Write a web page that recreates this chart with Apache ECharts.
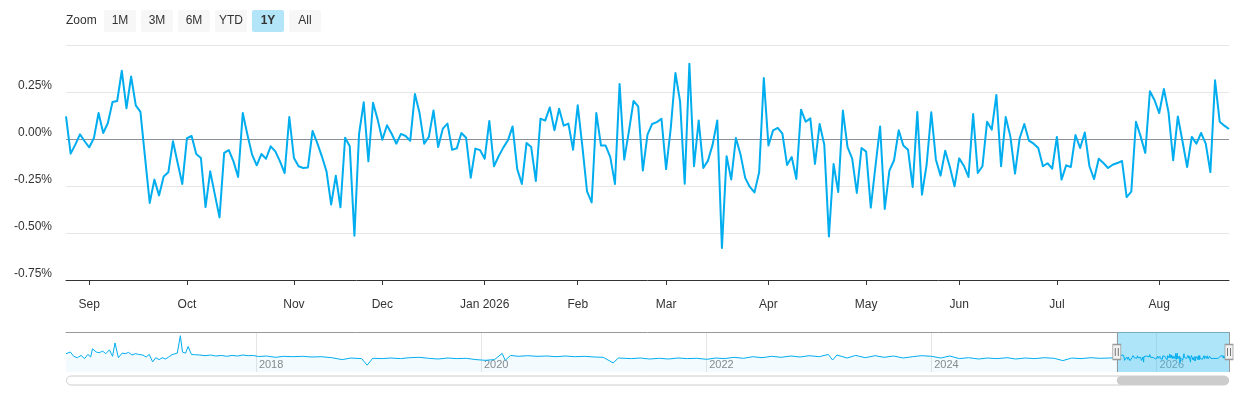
<!DOCTYPE html>
<html>
<head>
<meta charset="utf-8">
<script src="https://cdn.jsdelivr.net/npm/echarts@6/dist/echarts.min.js"></script>
<style>
  html, body { margin: 0; padding: 0; background: #fff; }
  #main { width: 1240px; height: 400px; }
</style>
</head>
<body>
<div id="main"></div>
<script>
'use strict'
var FONT = '"Liberation Sans", Arial, Helvetica, sans-serif';
var LINE = '#00adef';

// daily values (%), one array per month, trading days only
var aug2025 = [0.12, -0.078, -0.03, 0.025, -0.012];
var sep2025 = [-0.044, 0.005, 0.138, 0.032, 0.085, 0.197, 0.202, 0.363, 0.163, 0.333, 0.179,
               0.144, -0.10, -0.34, -0.216, -0.30, -0.199, -0.177, -0.012, -0.128, -0.239];
var oct2025 = [0.004, 0.016, -0.08, -0.101, -0.362, -0.172, -0.296, -0.417, -0.074, -0.059, -0.119,
               -0.202, 0.138, 0.023, -0.083, -0.14, -0.08, -0.105, -0.039, -0.066, -0.119, -0.181, 0.117];
var nov2025 = [-0.101, -0.145, -0.154, -0.152, 0.043, -0.021, -0.092, -0.172, -0.349, -0.195,
               -0.363, 0.007, -0.039, -0.514, 0.028, 0.195, -0.119, 0.193, 0.103];
var dec2025 = [-0.004, 0.073, 0.028, -0.025, 0.027, 0.016, -0.009, 0.239, 0.138, -0.025, 0.011,
               0.152, -0.043, 0.055, 0.082, -0.057, -0.05, 0.032, 0.007, -0.206, -0.051, -0.059];
var jan2026 = [-0.105, 0.096, -0.145, -0.092, -0.046, -0.007, 0.067, -0.16, -0.239, -0.021,
               -0.043, -0.223, 0.108, 0.098, 0.168, 0.046, 0.161, 0.071, 0.082, -0.057];
var feb2026 = [0.179, -0.039, -0.278, -0.337, 0.138, -0.034, -0.035, -0.096, -0.239, 0.293,
               -0.11, 0.041, 0.202, 0.174, -0.168, 0.023, 0.08, 0.09, 0.108];
var mar2026 = [-0.16, 0.058, 0.351, 0.2, -0.238, 0.40, -0.145, 0.098, -0.154, -0.115, -0.03,
               0.099, -0.58, -0.092, -0.216, 0.005, -0.083, -0.207, -0.255, -0.284, -0.177, 0.324];
var apr2026 = [-0.035, 0.046, 0.059, 0.028, -0.138, -0.096, -0.213, 0.156, 0.092, 0.11, -0.133,
               0.08, -0.03, -0.518, -0.133, -0.282, 0.151, -0.043, -0.105, -0.287, -0.048];
var may2026 = [-0.067, -0.365, -0.145, 0.067, -0.372, -0.168, -0.113, 0.046, -0.035, -0.057,
               -0.255, 0.144, -0.296, -0.137, 0.142, -0.11, -0.195, -0.062, -0.149, -0.252];
var jun2026 = [-0.103, -0.142, -0.202, 0.133, -0.181, -0.145, 0.092, 0.05, 0.234, -0.145, 0.117,
               0.014, -0.184, 0.004, 0.08, -0.009, -0.025, -0.048, -0.145, -0.129, -0.158];
var jul2026 = [0.011, -0.216, -0.14, -0.149, 0.021, -0.048, 0.035, -0.145, -0.213, -0.105, -0.128,
               -0.154, -0.137, -0.128, -0.117, -0.309, -0.28, 0.092, 0.014, -0.074, 0.254, 0.206];
var aug2026 = [0.138, 0.266, 0.142, -0.113, 0.12, -0.012, -0.149, 0.011, -0.025, 0.032, -0.025,
               -0.176, 0.312, 0.092, 0.071, 0.053];

var monthValues = [aug2025, sep2025, oct2025, nov2025, dec2025, jan2026, feb2026,
                   mar2026, apr2026, may2026, jun2026, jul2026, aug2026];
var monthLabels = ['', 'Sep', 'Oct', 'Nov', 'Dec', 'Jan 2026', 'Feb', 'Mar', 'Apr', 'May', 'Jun', 'Jul', 'Aug'];
var yTicks = [-0.75, -0.5, -0.25, 0, 0.25, 0.5];

var firstDay = '2025-08-25';
var holidays = ['2025-09-01', '2025-11-27', '2025-12-25', '2026-01-01', '2026-01-19',
                '2026-02-16', '2026-04-03', '2026-05-25', '2026-06-19', '2026-07-03'];

var zoomButtons = ['1M', '3M', '6M', 'YTD', '1Y', 'All'];
var selectedButton = '1Y';

// navigator: longer history (coarse)
var navYears = [2018, 2020, 2022, 2024, 2026];
var navMin = -1.5, navMax = 2.5;
var navHistory = [
  ['2016-04-25', 0.33], ['2016-05-09', 0.50], ['2016-05-20', 0.07], ['2016-06-01', -0.07],
  ['2016-06-13', 0.16], ['2016-06-24', -0.16], ['2016-07-05', 0.26], ['2016-07-14', 0.00],
  ['2016-07-20', 0.82], ['2016-08-01', 0.50], ['2016-08-11', 0.43], ['2016-08-22', 0.59],
  ['2016-09-01', 0.33], ['2016-09-13', 0.72], ['2016-09-23', 0.07], ['2016-10-01', 1.41],
  ['2016-10-12', -0.07], ['2016-10-24', 0.39], ['2016-11-03', 0.33], ['2016-11-14', 0.46],
  ['2016-11-25', 0.20], ['2016-12-06', 0.33], ['2016-12-16', 0.26], ['2016-12-30', 0.20],
  ['2017-01-10', 0.00], ['2017-01-20', 0.26], ['2017-01-31', -0.49], ['2017-02-10', -0.07],
  ['2017-02-21', -0.26], ['2017-03-03', -0.07], ['2017-03-14', -0.20], ['2017-03-24', 0.00],
  ['2017-04-04', 0.23], ['2017-04-14', 0.33], ['2017-04-21', 0.39], ['2017-05-01', 2.13],
  ['2017-05-08', 0.49], ['2017-05-18', 0.39], ['2017-05-26', 1.05], ['2017-06-06', 0.26],
  ['2017-06-16', 0.23], ['2017-07-03', 0.20], ['2017-07-20', 0.13], ['2017-08-07', 0.20],
  ['2017-08-24', 0.10], ['2017-09-11', 0.16], ['2017-09-28', 0.07], ['2017-10-16', 0.16],
  ['2017-11-02', 0.10], ['2017-11-20', 0.20], ['2017-12-07', 0.13], ['2017-12-22', 0.16],
  ['2018-01-10', 0.05], ['2018-02-05', 0.10], ['2018-03-05', -0.03], ['2018-04-02', 0.07],
  ['2018-05-01', 0.03], ['2018-06-01', 0.07], ['2018-07-02', 0.00], ['2018-08-01', 0.03],
  ['2018-09-04', -0.07], ['2018-10-08', -0.26], ['2018-11-05', -0.10], ['2018-12-10', -0.16],
  ['2018-12-28', -0.82], ['2019-01-15', -0.13], ['2019-02-15', -0.16], ['2019-03-15', -0.10],
  ['2019-04-15', -0.16], ['2019-05-15', -0.07], ['2019-06-14', -0.03], ['2019-07-15', -0.13],
  ['2019-08-15', -0.20], ['2019-09-16', -0.10], ['2019-10-15', -0.16], ['2019-11-15', -0.13],
  ['2019-12-16', -0.26], ['2020-01-15', -0.33], ['2020-02-14', -0.26], ['2020-03-10', 0.36],
  ['2020-03-20', -0.33], ['2020-04-06', 0.16], ['2020-05-01', 0.07], ['2020-06-01', 0.13],
  ['2020-07-01', 0.07], ['2020-08-03', 0.10], ['2020-09-01', 0.03], ['2020-10-01', 0.10],
  ['2020-11-02', 0.03], ['2020-12-01', 0.07], ['2021-01-04', 0.00], ['2021-02-01', -0.03],
  ['2021-03-05', -0.59], ['2021-03-22', -0.10], ['2021-05-03', -0.16], ['2021-06-01', -0.10],
  ['2021-07-01', -0.20], ['2021-08-02', -0.13], ['2021-09-01', -0.20], ['2021-10-01', -0.10],
  ['2021-11-01', -0.16], ['2021-12-01', -0.13], ['2022-01-03', -0.23], ['2022-02-01', -0.10],
  ['2022-03-01', -0.16], ['2022-04-01', -0.03], ['2022-05-02', -0.13], ['2022-06-01', 0.03],
  ['2022-07-01', -0.07], ['2022-08-01', 0.07], ['2022-09-01', -0.03], ['2022-10-03', 0.10],
  ['2022-11-01', 0.00], ['2022-12-01', 0.13], ['2023-01-03', 0.03], ['2023-02-01', 0.26],
  ['2023-02-15', -0.30], ['2023-03-01', 0.20], ['2023-04-03', -0.10], ['2023-05-01', 0.16],
  ['2023-06-01', -0.07], ['2023-07-03', 0.13], ['2023-08-01', -0.03], ['2023-09-01', 0.10],
  ['2023-10-02', -0.10], ['2023-11-01', 0.03], ['2023-12-01', 0.13], ['2024-01-02', 0.07],
  ['2024-02-01', -0.10], ['2024-03-01', 0.10], ['2024-04-01', -0.16], ['2024-05-01', -0.07],
  ['2024-06-03', -0.20], ['2024-07-01', -0.10], ['2024-08-01', -0.16], ['2024-09-03', -0.07],
  ['2024-10-01', -0.20], ['2024-11-01', -0.10], ['2024-12-02', -0.16], ['2025-01-02', -0.07],
  ['2025-02-03', -0.13], ['2025-03-03', -0.36], ['2025-04-01', -0.10], ['2025-05-01', -0.16],
  ['2025-06-02', -0.07], ['2025-07-01', -0.13], ['2025-08-01', -0.10], ['2025-08-22', -0.07]
];

function pad(n) { return n < 10 ? '0' + n : '' + n; }
function fmt(d) { return d.getFullYear() + '-' + pad(d.getMonth() + 1) + '-' + pad(d.getDate()); }
function ts(s) { var p = s.split('-'); return +new Date(+p[0], +p[1] - 1, +p[2]); }

// flatten months, remember where each month starts
var values = [];
var monthStart = {};
monthValues.forEach(function (m, k) {
    if (monthLabels[k]) monthStart[values.length] = monthLabels[k];
    values = values.concat(m);
});

// trading days
var dates = [];
var d = new Date(ts(firstDay));
while (dates.length < values.length) {
    var s = fmt(d), wd = d.getDay();
    if (wd > 0 && wd < 6 && holidays.indexOf(s) < 0) dates.push(s);
    d.setDate(d.getDate() + 1);
}
var lastDate = dates[dates.length - 1];

var navData = navHistory.map(function (p) { return [ts(p[0]), p[1]]; })
    .concat(dates.map(function (s, i) { return [ts(s), values[i]]; }));
var yearStarts = navYears.map(function (y) { return +new Date(y, 0, 1); });
var navMid = (navMin + navMax) / 2;

function isMonthTick(i) { return monthStart[i] !== undefined; }

var myChart = echarts.init(document.getElementById('main'));

var option = {
    animation: false,
    textStyle: { fontFamily: FONT },
    grid: [
        { left: 66, right: 11, top: 45, height: 235 },
        { left: 66, right: 11, top: 332, height: 40 }
    ],
    xAxis: [
        {
            type: 'category', gridIndex: 0, data: dates, boundaryGap: false,
            axisLine: { onZero: false, lineStyle: { color: '#333', width: 1 } },
            axisTick: { interval: isMonthTick, length: 5, lineStyle: { color: '#333' } },
            axisLabel: {
                interval: isMonthTick, color: '#333', fontSize: 12, margin: 19,
                formatter: function (v, i) { return monthStart[i] || ''; }
            },
            splitLine: { show: false }
        },
        {
            // timestamps on a plain value axis so the year marks can be set directly
            type: 'value', gridIndex: 1, min: ts(navHistory[0][0]), max: ts(lastDate),
            axisLine: { show: false, onZero: false },
            axisTick: { show: false, customValues: yearStarts },
            axisLabel: {
                customValues: yearStarts, inside: true, margin: 2, align: 'left',
                padding: [0, 0, 0, 3], color: '#8a8a8a', fontSize: 11,
                formatter: function (v) { return '' + new Date(v).getFullYear(); }
            },
            splitLine: { show: true, lineStyle: { color: '#e6e6e6' } }
        },
        {
            type: 'value', gridIndex: 1, position: 'top', min: 0, max: 1,
            axisLine: { onZero: false, lineStyle: { color: '#999' } },
            axisTick: { show: false }, axisLabel: { show: false }, splitLine: { show: false }
        }
    ],
    yAxis: [
        {
            type: 'value', gridIndex: 0, min: -0.75, max: 0.5, interval: 0.25,
            axisLine: { show: false }, axisTick: { show: false },
            axisLabel: {
                color: '#333', fontSize: 12, margin: 14, verticalAlign: 'bottom',
                formatter: function (v) { return v >= 0.5 ? '' : v.toFixed(2) + '%'; }
            },
            splitLine: {
                lineStyle: { color: yTicks.map(function (t) { return t === 0 ? '#8c9099' : '#e6e6e6'; }) }
            }
        },
        { type: 'value', gridIndex: 1, min: navMin, max: navMax, show: false }
    ],
    series: [
        {
            type: 'line', xAxisIndex: 0, yAxisIndex: 0, data: values,
            symbol: 'none', lineStyle: { color: LINE, width: 2, join: 'round' },
            itemStyle: { color: LINE }
        },
        {
            type: 'line', xAxisIndex: 1, yAxisIndex: 1, data: navData,
            symbol: 'none', lineStyle: { color: LINE, width: 1 },
            areaStyle: { color: 'rgba(0,173,239,0.06)', origin: 'start' },
            markArea: {
                silent: true,
                itemStyle: { color: 'rgba(70,195,240,0.43)' },
                data: [[{ xAxis: ts(dates[0]) }, { xAxis: ts(lastDate) }]]
            },
            markLine: {
                silent: true, symbol: 'none', label: { show: false },
                lineStyle: { color: '#999', width: 1, type: 'solid' },
                data: [{ xAxis: ts(dates[0]) }, { xAxis: ts(lastDate) }]
            },
            markPoint: {
                silent: true, label: { show: false },
                data: [ts(dates[0]), ts(lastDate)].reduce(function (acc, t) {
                    acc.push({ coord: [t, navMid], symbol: 'rect', symbolSize: [8, 15],
                        itemStyle: { color: '#f2f2f2', borderColor: '#999', borderWidth: 1 } });
                    acc.push({ coord: [t, navMid], symbol: 'path://M0,0h1v9h-1z M3,0h1v9h-1z',
                        symbolSize: [4, 8], itemStyle: { color: '#777', borderWidth: 0 } });
                    return acc;
                }, [])
            }
        }
    ]
};
myChart.setOption(option);

// range selector buttons and scrollbar
var graphics = [{
    type: 'text', left: 66, top: 15,
    style: { text: 'Zoom', fontSize: 12, fontFamily: FONT, fill: '#333' }
}];
zoomButtons.forEach(function (b, i) {
    var sel = b === selectedButton;
    graphics.push({
        type: 'group', left: 104 + 37 * i, top: 10,
        children: [
            { type: 'rect', shape: { x: 0, y: 0, width: 32, height: 22, r: 2 },
              style: { fill: sel ? '#b3e5f8' : '#f7f7f7' } },
            { type: 'text', x: 16, y: 11,
              style: { text: b, fontSize: 12, fontFamily: FONT, fontWeight: sel ? 'bold' : 'normal',
                       fill: '#333', align: 'center', verticalAlign: 'middle' } }
        ]
    });
});
var x0 = myChart.convertToPixel({ xAxisIndex: 1 }, ts(navHistory[0][0]));
var x1 = myChart.convertToPixel({ xAxisIndex: 1 }, ts(lastDate));
var xs = myChart.convertToPixel({ xAxisIndex: 1 }, ts(dates[0]));
graphics.push({
    type: 'rect', shape: { x: x0 + 0.5, y: 376, width: x1 - x0 - 1, height: 9, r: 4.5 },
    style: { fill: '#fff', stroke: '#cccccc', lineWidth: 1 }
});
graphics.push({
    type: 'rect', shape: { x: xs, y: 376, width: x1 - xs, height: 9, r: 4.5 },
    style: { fill: '#cccccc' }
});
myChart.setOption({ graphic: graphics });
</script>
</body>
</html>
